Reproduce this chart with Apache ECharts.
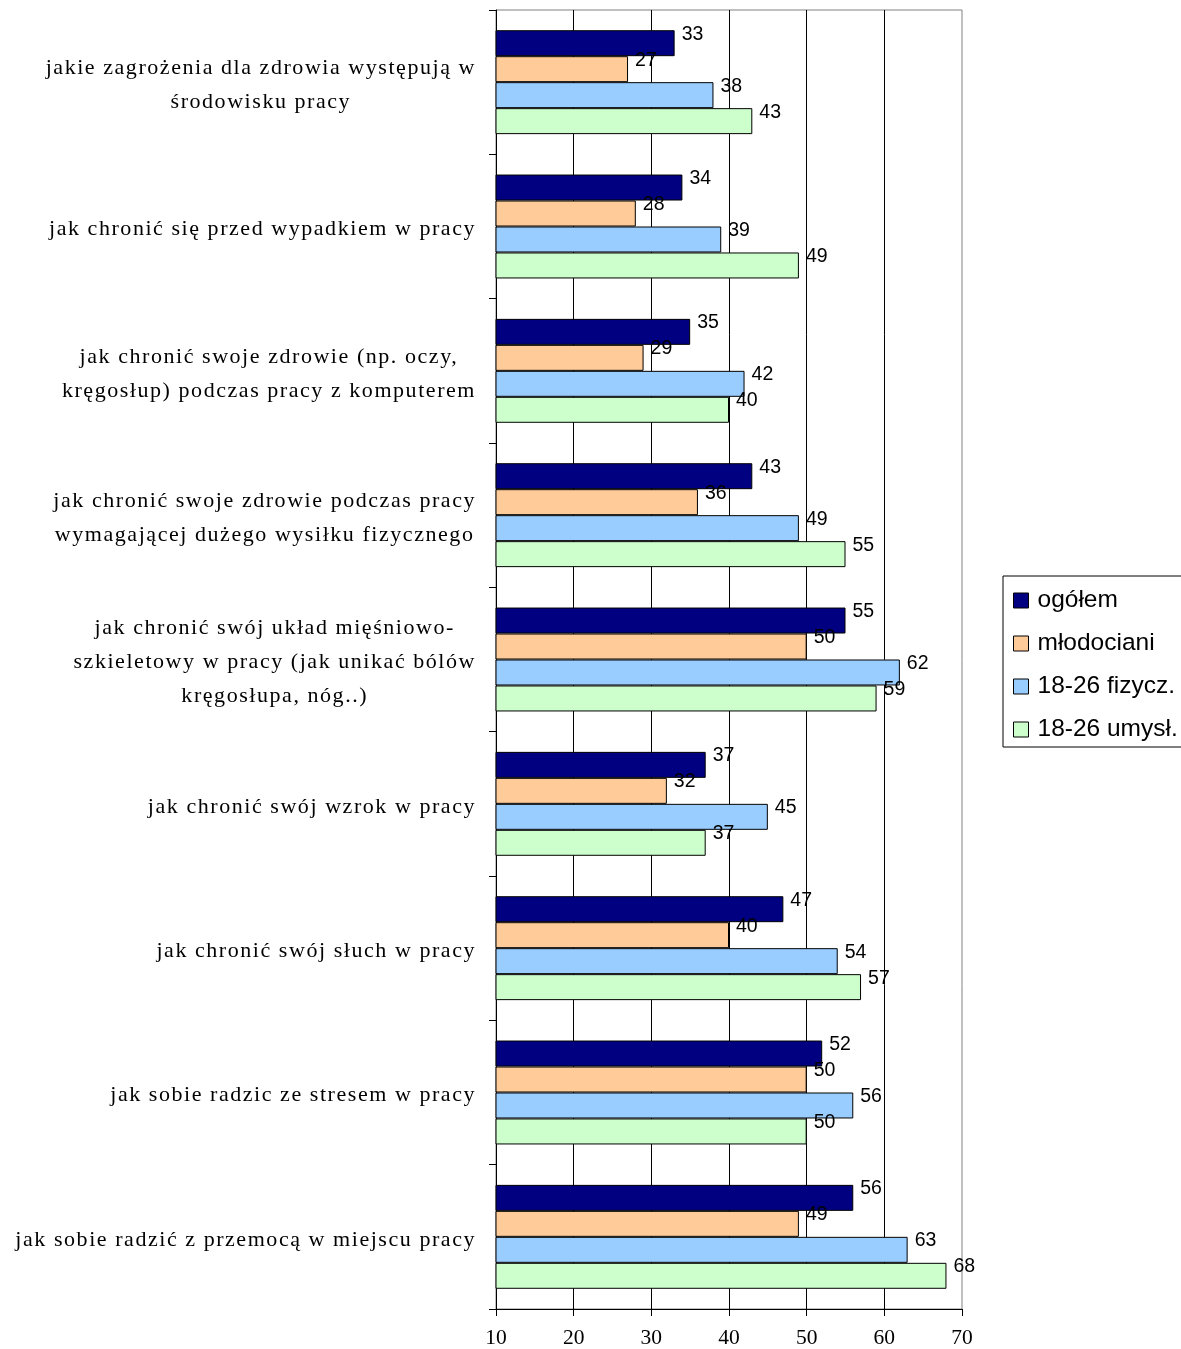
<!DOCTYPE html>
<html>
<head>
<meta charset="utf-8">
<title>Zagadnienia BHP – odsetek wskazań</title>
<script src="https://cdn.jsdelivr.net/npm/echarts@6/dist/echarts.min.js"></script>
<style>
  html, body { margin: 0; padding: 0; background: #fff; }
  #chart { width: 1181px; height: 1349px; }
</style>
</head>
<body>
<div id="chart"></div>
<script>
// Topics (top to bottom); "\n" marks line breaks in the axis labels
const categories = [
  'jakie zagrożenia dla zdrowia występują w\nśrodowisku pracy',
  'jak chronić się przed wypadkiem w pracy',
  'jak chronić swoje zdrowie (np. oczy,\nkręgosłup) podczas pracy z komputerem',
  'jak chronić swoje zdrowie podczas pracy\nwymagającej dużego wysiłku fizycznego',
  'jak chronić swój układ mięśniowo-\nszkieletowy w pracy (jak unikać bólów\nkręgosłupa, nóg..)',
  'jak chronić swój wzrok w pracy',
  'jak chronić swój słuch w pracy',
  'jak sobie radzic ze stresem w pracy',
  'jak sobie radzić z przemocą w miejscu pracy'
];

const seriesNames = ['ogółem', 'młodociani', '18-26 fizycz.', '18-26 umysł.'];

const ogolem      = [33, 34, 35, 43, 55, 37, 47, 52, 56];
const mlodociani  = [27, 28, 29, 36, 50, 32, 40, 50, 49];
const fizyczni    = [38, 39, 42, 49, 62, 45, 54, 56, 63];
const umyslowi    = [43, 49, 40, 55, 59, 37, 57, 50, 68];

const xTicks = { min: 10, max: 70, interval: 10 };

const colors = ['#000080', '#FFCC99', '#99CCFF', '#CCFFCC'];
const values = [ogolem, mlodociani, fizyczni, umyslowi];

const sansFont = '"Liberation Sans", Arial, sans-serif';
const serifFont = '"Liberation Serif", "Times New Roman", serif';
const CATEGORY_FONT_SIZE = 22;

// The topic labels use a slightly tracked-out serif face. ZRender has no
// letter-spacing option, so apply it on the 2D context whenever that exact
// font is selected (both when measuring and when drawing the text).
(function () {
  const proto = CanvasRenderingContext2D.prototype;
  const desc = Object.getOwnPropertyDescriptor(proto, 'font');
  if (!desc || !('letterSpacing' in proto)) return;
  const tracked = new RegExp('\\b' + CATEGORY_FONT_SIZE + 'px\\b.*Liberation Serif');
  Object.defineProperty(proto, 'font', {
    configurable: true,
    get() { return desc.get.call(this); },
    set(v) {
      desc.set.call(this, v);
      this.letterSpacing = tracked.test(String(v)) ? '1.55px' : '0px';
    }
  });
})();

const chart = echarts.init(document.getElementById('chart'), null, { renderer: 'canvas' });

const series = seriesNames.map((name, i) => ({
  name: name,
  type: 'bar',
  data: values[i],
  barGap: '0%',
  barCategoryGap: '28%',
  itemStyle: { color: colors[i], borderColor: '#000', borderWidth: 1 },
  label: {
    show: true,
    position: 'right',
    distance: 7,
    offset: [0, -9],
    fontFamily: sansFont,
    fontSize: 19.5,
    color: '#000'
  },
  emphasis: { disabled: true }
}));

chart.setOption({
  animation: false,
  backgroundColor: '#fff',
  grid: {
    left: 496, right: 219, top: 10, bottom: 40,
    show: true,
    borderColor: '#808080',
    borderWidth: 1,
    backgroundColor: 'transparent'
  },
  legend: {
    orient: 'vertical',
    left: 1003,
    top: 576,
    padding: [12, 40, 5, 10],
    itemGap: 18,
    itemWidth: 15,
    itemHeight: 15,
    icon: 'rect',
    borderColor: '#000',
    borderWidth: 1,
    textStyle: { fontFamily: sansFont, fontSize: 24.5, color: '#000', lineHeight: 24, padding: [0, 0, 0, 4] },
    itemStyle: { borderColor: '#000', borderWidth: 1 },
    selectedMode: false,
    data: seriesNames
  },
  xAxis: {
    type: 'value',
    position: 'bottom',
    min: xTicks.min,
    max: xTicks.max,
    interval: xTicks.interval,
    axisLine: { show: true, onZero: false, lineStyle: { color: '#000', width: 1 } },
    axisTick: { show: true, inside: false, length: 7, lineStyle: { color: '#000' } },
    axisLabel: { fontFamily: serifFont, fontSize: 21.5, color: '#000', margin: 18 },
    splitLine: { show: true, showMinLine: false, showMaxLine: false, lineStyle: { color: '#000', width: 1 } }
  },
  yAxis: {
    type: 'category',
    inverse: true,
    data: categories,
    axisLine: { show: true, lineStyle: { color: '#000', width: 1 } },
    axisTick: { show: true, inside: false, length: 7, lineStyle: { color: '#000' } },
    axisLabel: {
      margin: 20,
      align: 'right',
      padding: [6, 0, 0, 0],
      formatter: v => v.split('\n').map(l => '{c|' + l + '}').join('\n'),
      rich: {
        c: { fontFamily: serifFont, fontSize: CATEGORY_FONT_SIZE, lineHeight: 34, color: '#000', align: 'center' }
      }
    },
    splitLine: { show: false }
  },
  series: series
});
</script>
</body>
</html>
